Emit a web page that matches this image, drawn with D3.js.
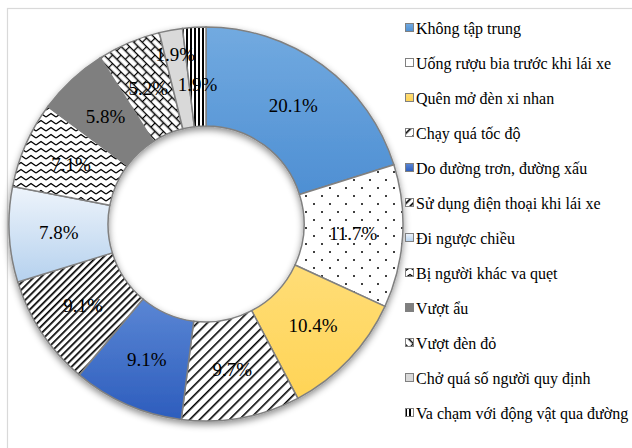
<!DOCTYPE html>
<html>
<head>
<meta charset="utf-8">
<script src="https://cdn.jsdelivr.net/npm/d3@7"></script>
<style>
  body { margin: 0; background: #fff; }
  svg { display: block; }
</style>
</head>
<body>
<div id="chart"></div>
<script>
// nguyên nhân tai nạn (%)
var categories = [
    'Không tập trung',
    'Uống rượu bia trước khi lái xe',
    'Quên mở đèn xi nhan',
    'Chạy quá tốc độ',
    'Do đường trơn, đường xấu',
    'Sử dụng điện thoại khi lái xe',
    'Đi ngược chiều',
    'Bị người khác va quẹt',
    'Vượt ẩu',
    'Vượt đèn đỏ',
    'Chở quá số người quy định',
    'Va chạm với động vật qua đường'
];
var values = [20.1, 11.7, 10.4, 9.7, 9.1, 9.1, 7.8, 7.1, 5.8, 5.2, 1.9, 1.9];
var fills = ['gBlue', 'pDots', 'gYellow', 'pWideDiag', 'gDarkBlue', 'pDarkDiag',
    'gLightBlue', 'pWave', 'solidGray', 'pBrick', 'solidLightGray', 'pVert'];

var width = 632, height = 448;
var cx = 206, cy = 224;
var outerR = 197, innerR = 98;
var serif = "'Liberation Serif', 'Times New Roman', serif";

var svg = d3.select('#chart').append('svg')
    .attr('width', width)
    .attr('height', height);

var defs = svg.append('defs');

function grad(id, top, bottom) {
    var g = defs.append('linearGradient').attr('id', id)
        .attr('x1', 0).attr('y1', 0).attr('x2', 0).attr('y2', 1);
    g.append('stop').attr('offset', '0%').attr('stop-color', top);
    g.append('stop').attr('offset', '100%').attr('stop-color', bottom);
}
grad('gBlue', '#72aae0', '#4e8fd3');
grad('gYellow', '#ffdd77', '#ffd456');
grad('gDarkBlue', '#5a86d4', '#2d5dbd');
grad('gLightBlue', '#eef4fb', '#b5d1ee');
grad('solidGray', '#7f7f7f', '#7f7f7f');
grad('solidLightGray', '#d9d9d9', '#d9d9d9');

function pattern(id, w, h, transform) {
    var p = defs.append('pattern').attr('id', id)
        .attr('patternUnits', 'userSpaceOnUse')
        .attr('width', w).attr('height', h);
    if (transform) p.attr('patternTransform', transform);
    p.append('rect').attr('width', w).attr('height', h).attr('fill', '#fff');
    return p;
}

var p = pattern('pDots', 16, 16);
p.append('circle').attr('cx', 4).attr('cy', 4).attr('r', 1).attr('fill', '#000');
p.append('circle').attr('cx', 12).attr('cy', 12).attr('r', 1).attr('fill', '#000');

p = pattern('pWideDiag', 7, 7, 'rotate(-45)');
p.append('rect').attr('x', 0).attr('y', 0).attr('width', 7).attr('height', 1.6).attr('fill', '#000');

p = pattern('pDarkDiag', 5, 5, 'rotate(-45)');
p.append('rect').attr('x', 0).attr('y', 0).attr('width', 5).attr('height', 1.7).attr('fill', '#000');

p = pattern('pWave', 10, 7);
p.append('path').attr('d', 'M0,5 L5,1.5 L10,5').attr('fill', 'none')
    .attr('stroke', '#000').attr('stroke-width', 1.4);

p = pattern('pBrick', 12, 12, 'rotate(45)');
p.append('path').attr('d', 'M0,0.5 H12 M0,6.5 H12 M0.5,0 V6 M6.5,6 V12')
    .attr('fill', 'none').attr('stroke', '#000').attr('stroke-width', 1.3);

p = pattern('pVert', 4, 4);
p.append('rect').attr('x', 0).attr('y', 0).attr('width', 2).attr('height', 4).attr('fill', '#000');

var flt = defs.append('filter').attr('id', 'shadow')
    .attr('x', '-20%').attr('y', '-20%').attr('width', '140%').attr('height', '140%');
flt.append('feDropShadow').attr('dx', 0).attr('dy', 3).attr('stdDeviation', 3.5)
    .attr('flood-color', '#000').attr('flood-opacity', 0.45);

// khung biểu đồ
svg.append('rect')
    .attr('x', 7.5).attr('y', 8.5)
    .attr('width', 700).attr('height', 500)
    .attr('fill', 'none')
    .attr('stroke', '#d9d9d9')
    .attr('stroke-width', 1.2);

var pie = d3.pie().sort(null).value(function(d) { return d; });
var arcs = pie(values);
var arc = d3.arc().innerRadius(innerR).outerRadius(outerR);

var g = svg.append('g').attr('transform', 'translate(' + cx + ',' + cy + ')');

g.append('g').attr('filter', 'url(#shadow)')
    .selectAll('path').data(arcs).enter().append('path')
    .attr('d', arc)
    .attr('fill', function(d, i) { return 'url(#' + fills[i] + ')'; })
    .attr('stroke', '#808080')
    .attr('stroke-width', 1.5);

// nhãn: hai lát nhỏ cuối đặt ở bán kính khác
var labelR = function(i) {
    if (i === 10) return 172;
    if (i === 11) return 140;
    return (innerR + outerR) / 2;
};
g.selectAll('text.lbl').data(arcs).enter().append('text')
    .attr('class', 'lbl')
    .attr('transform', function(d, i) {
        var a = (d.startAngle + d.endAngle) / 2, r = labelR(i);
        return 'translate(' + (r * Math.sin(a)) + ',' + (-r * Math.cos(a)) + ')';
    })
    .attr('text-anchor', 'middle')
    .attr('dy', '0.35em')
    .style('font-family', serif)
    .style('font-size', '19px')
    .style('fill', '#000')
    .text(function(d) { return d.data.toFixed(1) + '%'; });

// chú thích
var ly = d3.scalePoint().domain(d3.range(categories.length)).range([28, 413]);
var leg = svg.append('g').selectAll('g').data(categories).enter().append('g')
    .attr('transform', function(d, i) { return 'translate(405,' + ly(i) + ')'; });
leg.append('rect')
    .attr('x', 0.5).attr('y', -4.5)
    .attr('width', 8).attr('height', 8)
    .attr('fill', function(d, i) { return 'url(#' + fills[i] + ')'; })
    .attr('stroke', '#808080')
    .attr('stroke-width', 1);
leg.append('text')
    .attr('x', 11)
    .attr('dy', '0.35em')
    .style('font-family', serif)
    .style('font-size', '16px')
    .style('fill', '#000')
    .text(function(d) { return d; });
</script>
</body>
</html>
